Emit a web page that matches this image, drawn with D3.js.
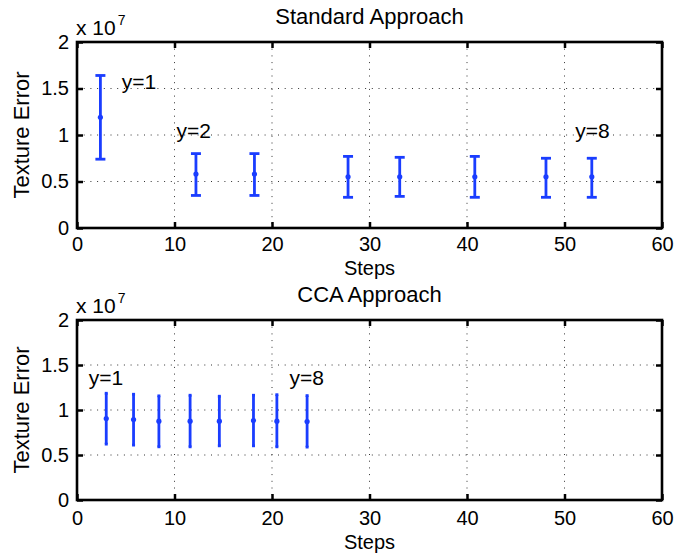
<!DOCTYPE html>
<html>
<head>
<meta charset="utf-8">
<script src="https://cdn.jsdelivr.net/npm/d3@7"></script>
<style>
  html, body { margin: 0; padding: 0; background: #fff; }
  svg { display: block; font-family: "Liberation Sans", Arial, Helvetica, sans-serif; }
</style>
</head>
<body>
<svg id="chart" width="677" height="556"></svg>
<script>
// Axis ticks shared by both panels
const xTicks = [0, 10, 20, 30, 40, 50, 60];
const yTicks = [0, 0.5e7, 1e7, 1.5e7, 2e7];
const yTickLabels = ["0", "0.5", "1", "1.5", "2"];

// Standard approach: steps vs texture error (mean with lower/upper bounds)
const stdSteps = [2.4, 12.2, 18.2, 27.8, 33.1, 40.8, 48.1, 52.8];
const stdMean  = [1.19e7, 0.58e7, 0.58e7, 0.55e7, 0.55e7, 0.55e7, 0.55e7, 0.55e7];
const stdLower = [0.74e7, 0.35e7, 0.35e7, 0.33e7, 0.34e7, 0.33e7, 0.33e7, 0.33e7];
const stdUpper = [1.64e7, 0.80e7, 0.80e7, 0.77e7, 0.76e7, 0.77e7, 0.75e7, 0.75e7];
const stdNotes = ["y=1", "y=2", "y=8"];
const stdNoteX = [4.6, 10.2, 51.1];
const stdNoteY = [1.5e7, 0.97e7, 0.97e7];

// CCA approach
const ccaSteps = [3.0, 5.8, 8.4, 11.6, 14.6, 18.1, 20.5, 23.6];
const ccaMean  = [0.905e7, 0.894e7, 0.876e7, 0.876e7, 0.876e7, 0.883e7, 0.876e7, 0.871e7];
const ccaLower = [0.621e7, 0.610e7, 0.591e7, 0.591e7, 0.602e7, 0.602e7, 0.591e7, 0.588e7];
const ccaUpper = [1.186e7, 1.175e7, 1.157e7, 1.164e7, 1.153e7, 1.164e7, 1.170e7, 1.160e7];
const ccaNotes = ["y=1", "y=8"];
const ccaNoteX = [1.2, 21.8];
const ccaNoteY = [1.28e7, 1.28e7];

const svg = d3.select("#chart");
const BLUE = "#1a3dff";
const FONT = 20;
const NOTE = 21;
const BIG = 22;

function panel(opt) {
  const x = d3.scaleLinear().domain([0, 60]).range([77, 662]);
  const y = d3.scaleLinear().domain([0, 2e7]).range([opt.bottom, opt.top]);
  const g = svg.append("g");

  // dotted grid
  g.append("g").selectAll("line").data(xTicks.slice(1, -1)).join("line")
    .attr("x1", d => x(d)).attr("x2", d => x(d))
    .attr("y1", opt.top).attr("y2", opt.bottom)
    .attr("stroke", "#333").attr("stroke-width", 1).attr("stroke-dasharray", "1,5.7");
  g.append("g").selectAll("line").data(yTicks.slice(1, -1)).join("line")
    .attr("x1", 77).attr("x2", 662)
    .attr("y1", d => y(d)).attr("y2", d => y(d))
    .attr("stroke", "#333").attr("stroke-width", 1).attr("stroke-dasharray", "1,5.7");

  // axes with inward ticks on all four sides
  const fmtY = d => yTickLabels[yTicks.indexOf(d)];
  const ax = [
    g.append("g").attr("transform", `translate(0,${opt.bottom})`)
      .call(d3.axisBottom(x).tickValues(xTicks).tickSizeInner(-6).tickSizeOuter(0).tickPadding(opt.xPad)),
    g.append("g").attr("transform", `translate(0,${opt.top})`)
      .call(d3.axisTop(x).tickValues(xTicks).tickSizeInner(-6).tickSizeOuter(0).tickFormat("")),
    g.append("g").attr("transform", "translate(77,0)")
      .call(d3.axisLeft(y).tickValues(yTicks).tickFormat(fmtY).tickSizeInner(-6).tickSizeOuter(0).tickPadding(8)),
    g.append("g").attr("transform", "translate(662,0)")
      .call(d3.axisRight(y).tickValues(yTicks).tickSizeInner(-6).tickSizeOuter(0).tickFormat(""))
  ];
  ax.forEach(a => {
    a.select(".domain").remove();
    a.selectAll(".tick line").attr("stroke", "#000").attr("stroke-width", 2.5);
    a.selectAll(".tick text").attr("fill", "#000").attr("font-size", FONT)
      .attr("font-family", "Liberation Sans, Arial, sans-serif");
  });

  // box
  g.append("rect").attr("x", 77).attr("y", opt.top)
    .attr("width", 662 - 77).attr("height", opt.bottom - opt.top)
    .attr("fill", "none").attr("stroke", "#000").attr("stroke-width", 2.6);

  // error bars
  const rows = opt.steps.map((s, i) => ({ s, m: opt.mean[i], lo: opt.lower[i], hi: opt.upper[i] }));
  const eb = g.append("g").selectAll("g").data(rows).join("g");
  eb.append("line")
    .attr("x1", d => x(d.s)).attr("x2", d => x(d.s))
    .attr("y1", d => y(d.lo)).attr("y2", d => y(d.hi))
    .attr("stroke", BLUE).attr("stroke-width", 2.8);
  ["lo", "hi"].forEach(k => {
    eb.append("line")
      .attr("x1", d => x(d.s) - opt.cap).attr("x2", d => x(d.s) + opt.cap)
      .attr("y1", d => y(d[k])).attr("y2", d => y(d[k]))
      .attr("stroke", BLUE).attr("stroke-width", 2.8);
  });
  eb.append("circle").attr("cx", d => x(d.s)).attr("cy", d => y(d.m))
    .attr("r", 2.6).attr("fill", BLUE);

  // annotations
  g.append("g").selectAll("text").data(opt.notes).join("text")
    .attr("x", (d, i) => x(opt.noteX[i])).attr("y", (d, i) => y(opt.noteY[i]))
    .attr("font-size", NOTE).attr("fill", "#000").text(d => d);

  // title
  g.append("text").attr("x", (77 + 662) / 2).attr("y", opt.top - 18)
    .attr("text-anchor", "middle").attr("font-size", BIG).text(opt.title);

  // exponent
  const ex = g.append("text").attr("x", 76).attr("y", opt.top - 7).attr("font-size", NOTE);
  ex.append("tspan").text("x 10");
  ex.append("tspan").attr("dy", -10).attr("dx", 2).attr("font-size", 14).text("7");

  // axis labels
  g.append("text").attr("x", (77 + 662) / 2).attr("y", opt.bottom + opt.stepsGap)
    .attr("text-anchor", "middle").attr("font-size", FONT).text("Steps");
  g.append("text")
    .attr("transform", `translate(29,${(opt.top + opt.bottom) / 2}) rotate(-90)`)
    .attr("text-anchor", "middle").attr("font-size", BIG).text("Texture Error");
}

panel({ top: 42, bottom: 228, title: "Standard Approach", cap: 5, xPad: 9, stepsGap: 47,
        steps: stdSteps, mean: stdMean, lower: stdLower, upper: stdUpper,
        notes: stdNotes, noteX: stdNoteX, noteY: stdNoteY });
panel({ top: 320, bottom: 500, title: "CCA Approach", cap: 1.5, xPad: 11, stepsGap: 49,
        steps: ccaSteps, mean: ccaMean, lower: ccaLower, upper: ccaUpper,
        notes: ccaNotes, noteX: ccaNoteX, noteY: ccaNoteY });
</script>
</body>
</html>
